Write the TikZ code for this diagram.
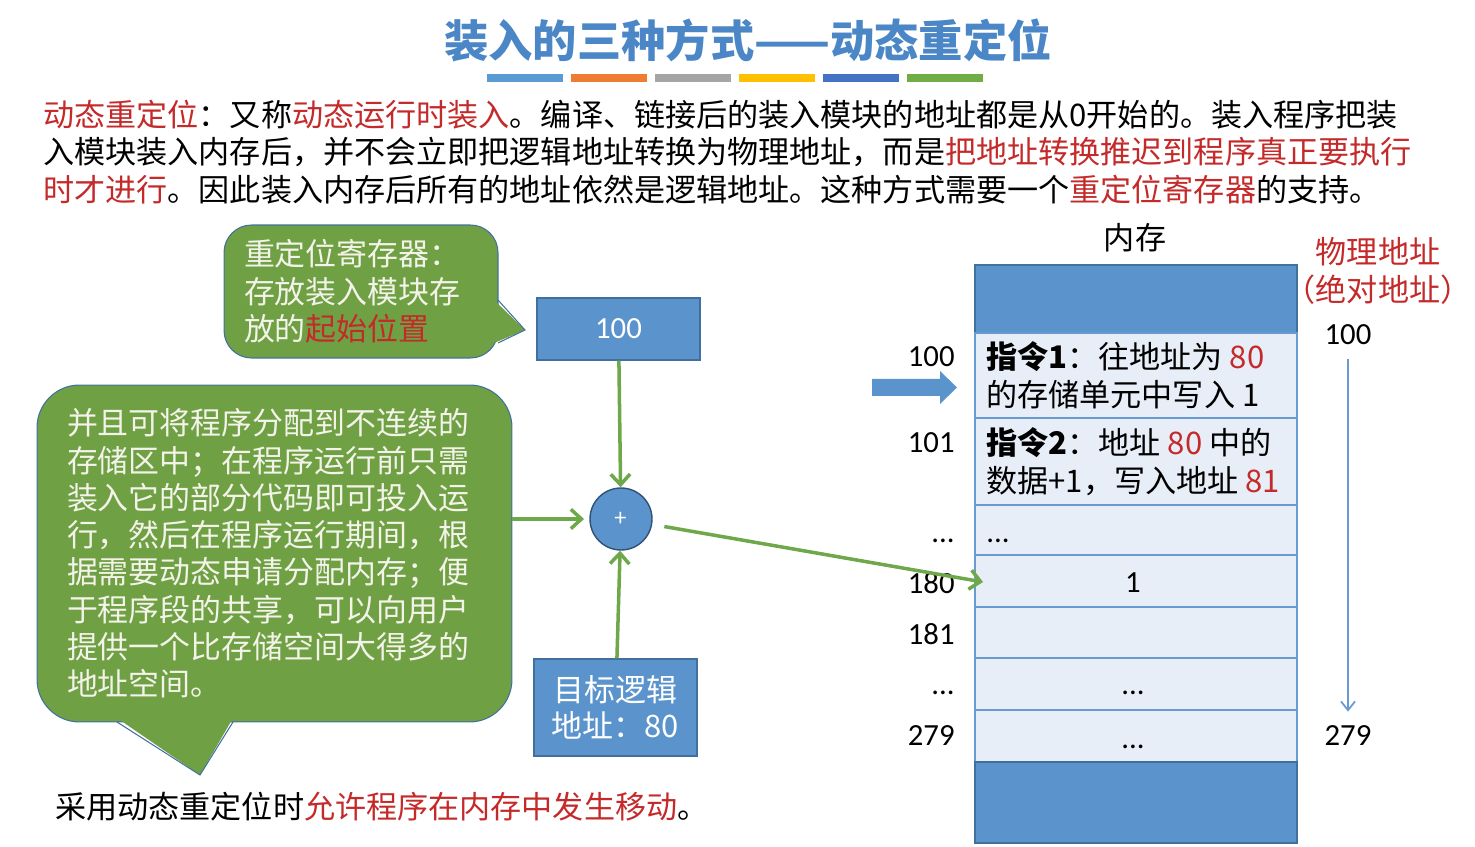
\documentclass[tikz,border=0pt]{standalone}
\usepackage{fontspec}
\setmainfont{Noto Sans CJK SC}
\newfontfamily\numfont{Carlito}
\usepackage{xcolor}
\usetikzlibrary{arrows.meta, positioning}
\definecolor{dyblue}{HTML}{5B93CC}
\definecolor{dyedge}{HTML}{41709E}
\definecolor{dydark}{HTML}{2F5275}
\definecolor{dygreen}{HTML}{70A044}
\definecolor{dyarrow}{HTML}{6FA84A}
\definecolor{dycell}{HTML}{E8EEF7}
\definecolor{dycellline}{HTML}{6A9BD0}
\definecolor{dyred}{HTML}{C42A2A}
\definecolor{dytitle}{HTML}{4B87C6}
\definecolor{dypale}{HTML}{F3F3EA}
\definecolor{barA}{HTML}{5B9BD5}
\definecolor{barB}{HTML}{ED7D31}
\definecolor{barC}{HTML}{A5A5A5}
\definecolor{barD}{HTML}{FFC000}
\definecolor{barE}{HTML}{4472C4}
\definecolor{barF}{HTML}{70AD47}
\newcommand{\redtxt}[1]{\textcolor{dyred}{#1}}
\tikzset{
  txt/.style={font=\fontsize{17.7}{21.5}\selectfont, inner sep=0pt},
  numlbl/.style={font=\numfont\fontsize{17.5}{20}\selectfont, inner sep=0pt},
  balloon/.style={fill=dygreen, draw=dyedge, line width=0.6pt, text=dypale, align=left,
    font=\fontsize{17.6}{21.2}\selectfont},
  bluebox/.style={fill=dyblue, draw=dyedge, line width=0.8pt, text=white, minimum width=3.26cm},
  memblock/.style={fill=dyblue, draw=dyedge, line width=0.8pt, minimum width=6.44cm, inner sep=0pt},
  cell/.style={fill=dycell, draw=dycellline, line width=1.3pt, minimum width=6.44cm, inner sep=0pt},
  flow/.style={draw=dyarrow, line width=2pt, -{Straight Barb[length=6pt, width=11pt]}},
}
\begin{document}
\begin{tikzpicture}[x=0.02cm, y=-0.02cm]
\useasboundingbox (0,0) rectangle (1475,847);
% heading and colour strip
\node[font=\fontsize{25.2}{30}\selectfont\bfseries, text=dytitle] (title) at (748,40) {装入的三种方式——动态重定位};
\foreach \c [count=\i from 0] in {barA,barB,barC,barD,barE,barF}
  \fill[\c] ({487+84*\i},74) rectangle ++(76,8);
\node[txt, anchor=west, align=left] (intro) at (43,152) {\redtxt{动态重定位}：又称\redtxt{动态运行时装入}。编译、链接后的装入模块的地址都是从0开始的。装入程序把装\\
入模块装入内存后，并不会立即把逻辑地址转换为物理地址，而是\redtxt{把地址转换推迟到程序真正要执行}\\
\redtxt{时才进行}。因此装入内存后所有的地址依然是逻辑地址。这种方式需要一个\redtxt{重定位寄存器}的支持。};

% callouts
\node[balloon, minimum width=5.48cm, minimum height=2.66cm, text width=4.68cm, inner xsep=0.4cm, rounded corners=0.55cm] (regnote) at (361,291.5) {重定位寄存器：\\存放装入模块存\\放的\redtxt{起始位置}};
\fill[dygreen] (494,300) -- (525,330) -- (494,343) -- cycle;
\draw[dyedge, line width=0.6pt] (498,300) -- (525,330) -- (498,343);
\node[balloon, minimum width=9.5cm, minimum height=6.74cm, text width=8.3cm, inner xsep=0.6cm, rounded corners=0.85cm] (featnote) at (274.5,553.5) {并且可将程序分配到不连续的\\存储区中；在程序运行前只需\\装入它的部分代码即可投入运\\行，然后在程序运行期间，根\\据需要动态申请分配内存；便\\于程序段的共享，可以向用户\\提供一个比存储空间大得多的\\地址空间。};
\fill[dygreen] (117,718) -- (200,775) -- (233,718) -- cycle;
\draw[dyedge, line width=0.6pt] (117,722) -- (200,775) -- (233,722);

% address adder
\node[bluebox, minimum height=1.24cm, font=\numfont\fontsize{17.5}{20}\selectfont] (base) at (618.5,329) {100};
\node[bluebox, minimum height=1.94cm, align=center, font=\fontsize{17.6}{20.5}\selectfont] (logic) at (615.5,707.5) {目标逻辑\\地址：80};
\node[circle, fill=dyblue, draw=dydark, line width=0.8pt, minimum size=1.24cm, inner sep=0pt, text=white, font=\fontsize{13}{15}\selectfont] (adder) at (621,519) {+};
\draw[flow] (base) -- (adder);
\draw[flow, shorten >=3pt] (featnote.east |- adder) -- (adder);
\draw[flow] (logic) -- (adder);

% memory
\node[txt] (memtitle) at (1135,238) {内存};
\node[memblock, minimum height=1.36cm] (memtop) at (1136,299) {};
\foreach \nm/\yt/\yb in {r1/333/418, r2/418/505, r3/505/555, r4/555/607, r5/607/658, r6/658/710, r7/710/762}
  \node[cell, minimum height={(\yb-\yt)*0.02cm}] (\nm) at (1136,{(\yt+\yb)/2}) {};
\node[memblock, minimum height=1.62cm] (membot) at (1136,802.5) {};
\node[txt, anchor=west, align=left] (ins1) at (986,375) {\textbf{指令1}：往地址为 \redtxt{80}\\的存储单元中写入 1};
\node[txt, anchor=west, align=left] (ins2) at (986,462) {\textbf{指令2}：地址 \redtxt{80} 中的\\数据+1，写入地址 \redtxt{81}};
\node[numlbl, anchor=base west] (r3txt) at (986,543) {...};
\node[numlbl] (r4txt) at (1133,583) {1};
\node[numlbl, anchor=base] (r6txt) at (1133,695) {...};
\node[numlbl, anchor=base] (r7txt) at (1133,748) {...};

% logical side labels
\foreach \nm/\y/\t in {a100/357/100, a101/443/101, a180/583/180, a181/634/181, a279/736/279}
  \node[numlbl, anchor=east] (\nm) at (955,\y) {\t};
\node[numlbl, anchor=base east] (adots1) at (955,543) {...};
\node[numlbl, anchor=base east] (adots2) at (955,695) {...};
\fill[dyblue] (872,379) -- (940,379) -- (940,371) -- (957,387.5) -- (940,404) -- (940,396) -- (872,396) -- cycle;

% adder result into memory
\coordinate (hit) at (983,582);
\draw[flow, shorten <=7pt] (adder) -- (hit);

% physical side
\node[txt, text=dyred, align=center] (physlbl) at (1378,271) {物理地址\\（绝对地址）};
\node[numlbl] (p100) at (1348,335) {100};
\node[numlbl] (p279) at (1348,736) {279};
\draw[dycellline, line width=1pt, -{Straight Barb[length=5pt, width=8pt]}, shorten <=8pt, shorten >=8pt] (p100) -- (p279);

\node[txt, anchor=west] (note) at (55,807) {采用动态重定位时\redtxt{允许程序在内存中发生移动}。};
\end{tikzpicture}
\end{document}
